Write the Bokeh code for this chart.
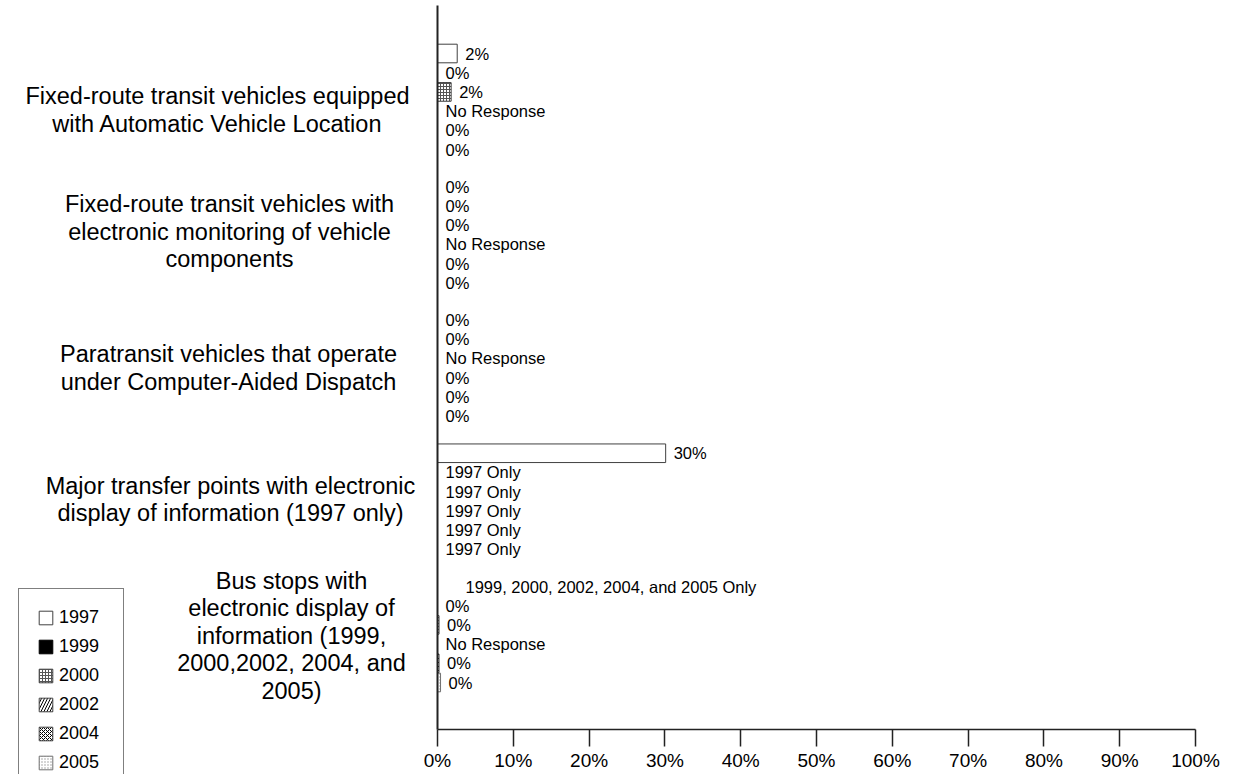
from bokeh.plotting import figure
from bokeh.models import ColumnDataSource, Range1d, FixedTicker, Legend, LegendItem
from bokeh.core.properties import value
from bokeh.embed import file_html
from bokeh.resources import INLINE

# ---------------- data ----------------
categories = [
    "Fixed-route transit vehicles equipped\nwith Automatic Vehicle Location",
    "Fixed-route transit vehicles with\nelectronic monitoring of vehicle\ncomponents",
    "Paratransit vehicles that operate\nunder Computer-Aided Dispatch",
    "Major transfer points with electronic\ndisplay of information (1997 only)",
    "Bus stops with\nelectronic display of\ninformation (1999,\n2000,2002, 2004, and\n2005)",
]
years = ["1997", "1999", "2000", "2002", "2004", "2005"]

values_1997 = [2.6, 0.0, 0.0, 30.1, 0.0]
values_1999 = [0.0, 0.0, 0.0, 0.0, 0.0]
values_2000 = [1.8, 0.0, 0.0, 0.0, 0.2]
values_2002 = [0.0, 0.0, 0.0, 0.0, 0.0]
values_2004 = [0.0, 0.0, 0.0, 0.0, 0.2]
values_2005 = [0.0, 0.0, 0.0, 0.0, 0.4]

labels_1997 = ["2%", "0%", "0%", "30%", "1999, 2000, 2002, 2004, and 2005 Only"]
labels_1999 = ["0%", "0%", "0%", "1997 Only", "0%"]
labels_2000 = ["2%", "0%", "No Response", "1997 Only", "0%"]
labels_2002 = ["No Response", "No Response", "0%", "1997 Only", "No Response"]
labels_2004 = ["0%", "0%", "0%", "1997 Only", "0%"]
labels_2005 = ["0%", "0%", "0%", "1997 Only", "0%"]

tick_values = [0, 10, 20, 30, 40, 50, 60, 70, 80, 90, 100]
tick_labels = ["0%", "10%", "20%", "30%", "40%", "50%", "60%", "70%", "80%", "90%", "100%"]

series_values = [values_1997, values_1999, values_2000, values_2002, values_2004, values_2005]
series_labels = [labels_1997, labels_1999, labels_2000, labels_2002, labels_2004, labels_2005]

# ---------------- layout (pixel constants) ----------------
W, H = 1220, 774
zero_px = 437               # x pixel of 0 %
px_per_pct = 7.58           # 100 % at x = 1195
group_px = 133.25           # pixels between group centres
first_group_px = 101.0      # y pixel of first group centre
axis_top_px = 5             # top end of the vertical axis line
axis_bottom_px = 729        # y pixel of the horizontal axis
slot = 19.2 / group_px      # one bar slot in data units

def ydata(px):
    return (px - first_group_px) / group_px

def xdata(px):
    return (px - zero_px) / px_per_pct

FONT = value("Liberation Sans")

p = figure(width=W, height=H, output_backend="svg", toolbar_location=None,
           x_range=Range1d(xdata(0), xdata(W)), y_range=Range1d(ydata(H), ydata(0)),
           min_border_left=0, min_border_right=0, min_border_top=0, min_border_bottom=0)
p.outline_line_color = None
p.xgrid.visible = False
p.ygrid.visible = False
p.background_fill_color = "white"
p.border_fill_color = "white"

styles = [
    dict(fill_color="white", line_color="#404040"),
    dict(fill_color="black", line_color="black"),
    dict(fill_color="white", line_color="#404040", hatch_pattern="+", hatch_color="#555555",
         hatch_scale=3, hatch_weight=1),
    dict(fill_color="white", line_color="#404040", hatch_pattern="/", hatch_color="black",
         hatch_scale=6, hatch_weight=1),
    dict(fill_color="white", line_color="#404040", hatch_pattern="x", hatch_color="black",
         hatch_scale=4, hatch_weight=1),
    dict(fill_color="white", line_color="#707070", hatch_pattern=".", hatch_color="#999999",
         hatch_scale=3, hatch_weight=1),
]

legend_items = []
for k, (yr, vals, labs, st) in enumerate(zip(years, series_values, series_labels, styles)):
    ys = [g + (k - 2.5) * slot for g in range(len(categories))]
    offs = [28 if lab.startswith("1999,") else 8 for lab in labs]
    src = ColumnDataSource(dict(y=ys, v=vals, lab=labs, off=offs))
    r = p.hbar(y="y", left=0, right="v", height=slot * 0.97, source=src, line_width=1, **st)
    p.text(x="v", y="y", text="lab", x_offset="off", source=src, text_font=FONT,
           text_font_size="16.5px", text_baseline="middle", text_align="left",
           text_color="black")
    legend_items.append(LegendItem(label=yr, renderers=[r]))

# category labels, centred blocks left of the axis
cat_center_px = [217, 229, 228, 230, 291]       # x centre of each label block
cat_shift_px = [8.5, -3, 0, -2, 1]               # vertical shift of each block
line_px = 27.5
cx_list, cy_list, ct_list = [], [], []
for g, (cat, cx, dy) in enumerate(zip(categories, cat_center_px, cat_shift_px)):
    lines = cat.split("\n")
    n = len(lines)
    for j, ln in enumerate(lines):
        cx_list.append(xdata(cx))
        cy_list.append(g + (dy + (j - (n - 1) / 2) * line_px) / group_px)
        ct_list.append(ln)
p.text(x=cx_list, y=cy_list, text=ct_list, text_align="center", text_baseline="middle",
       text_font=FONT, text_font_size="23.5px", text_color="black")

# x axis: drawn at the bottom of the bars area
p.xaxis.fixed_location = ydata(axis_bottom_px)
p.xaxis.bounds = (0, 100)
p.xaxis.ticker = FixedTicker(ticks=tick_values)
p.xaxis.major_label_overrides = {t: l for t, l in zip(tick_values, tick_labels)}
p.xaxis.major_label_text_font = "Liberation Sans"
p.xaxis.major_label_text_font_size = "19px"
p.xaxis.major_label_text_color = "black"
p.xaxis.major_tick_out = 17
p.xaxis.major_tick_in = 0
p.xaxis.minor_tick_line_color = None
p.xaxis.major_label_standoff = 3
p.xaxis.axis_line_color = "#222222"
p.xaxis.axis_line_width = 1.5
p.xaxis.major_tick_line_color = "#222222"
p.xaxis.major_tick_line_width = 1.5

# y axis: plain line at 0 %
p.yaxis.fixed_location = 0
p.yaxis.bounds = (ydata(axis_top_px), ydata(axis_bottom_px))
p.yaxis.ticker = FixedTicker(ticks=[])
p.yaxis.major_tick_line_color = None
p.yaxis.minor_tick_line_color = None
p.yaxis.major_label_text_font_size = "0px"
p.yaxis.axis_line_color = "#222222"
p.yaxis.axis_line_width = 2

legend = Legend(items=legend_items, location=(18, -18), orientation="vertical",
                label_text_font="Liberation Sans", label_text_font_size="18px",
                label_text_color="black", glyph_width=17, glyph_height=17,
                label_height=19, label_width=46, spacing=8, padding=18, label_standoff=5,
                border_line_color="black", border_line_width=1,
                background_fill_color="white", background_fill_alpha=1.0, margin=0)
p.add_layout(legend, "center")

open("out.html", "w").write(file_html(p, INLINE))
